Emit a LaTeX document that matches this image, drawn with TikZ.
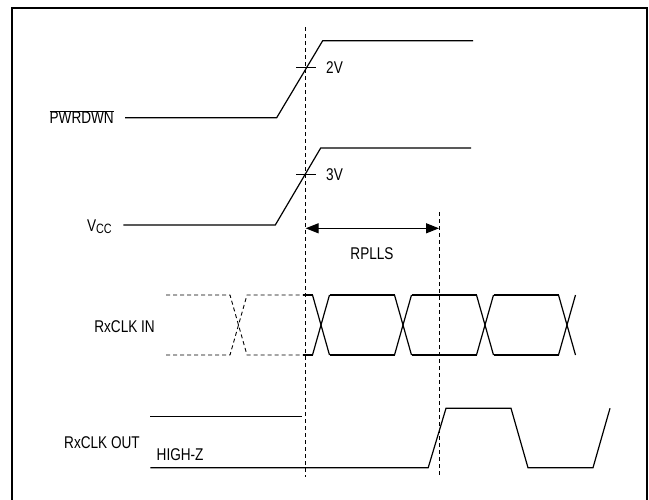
\documentclass[tikz,border=0pt]{standalone}
\usepackage{fontspec}
\setmainfont{Liberation Sans}[FakeStretch=0.8]
\usetikzlibrary{arrows.meta}
\tikzset{sig/.style = {line width = 1.2pt, line join = miter}}
\tikzset{guide/.style = {line width = 0.9pt, dash pattern = on 4pt off 3pt}}
\tikzset{lbl/.style = {inner sep = 0, font = \fontsize{17}{20}\selectfont}}

\begin{document}
\begin{tikzpicture}[x=1pt, y=-1pt]
  \useasboundingbox (0, 0) rectangle (649, 499);
  \draw [line width = 2.5pt] (12, 510) -- (12, 8) -- (647, 8) -- (647, 510);

  % guide lines
  \coordinate (g1top) at (305.6, 27);
  \coordinate (g1bot) at (305.6, 477);
  \coordinate (g2top) at (439, 212);
  \coordinate (g2bot) at (439, 477);
  \draw [guide] (g1top) -- (g1bot);
  \draw [guide] (g2top) -- (g2bot);

  % PWRDWN
  \node [lbl, anchor = east] (pwrdwn) at (114, 117) {\(\overline{\mbox{PWRDWN}}\)};
  \draw [sig] (125, 117.7) -- (276.7, 117.7) -- (322.7, 40.7) -- (473, 40.7);
  \draw [sig] (296, 67.7) -- (316, 67.7);
  \node [lbl, anchor = west] (twov) at (326, 68) {2V};

  % VCC
  \node [lbl, anchor = east] (vcc) at (112, 227) {V\raisebox{-2pt}{\fontsize{13.5}{14}\selectfont CC}};
  \draw [sig] (123.3, 225) -- (275.3, 225) -- (320.7, 148) -- (471, 148);
  \draw [sig] (296, 174.3) -- (316, 174.3);
  \node [lbl, anchor = west] (threev) at (326, 174.5) {3V};

  % RPLLS
  \coordinate (ra) at (305.6, 228.3);
  \coordinate (rb) at (439, 228.3);
  \draw [sig, {Triangle[length=13pt, width=10pt]}-{Triangle[length=13pt, width=10pt]}] (ra) -- (rb);
  \node [lbl] (rplls) at (372, 254) {RPLLS};

  % RxCLK IN
  \node [lbl, anchor = east] (rxin) at (155, 326.7) {RxCLK IN};
  \draw [guide] (166, 295) -- (230, 295) -- (247, 355) -- (166 + 137, 355);
  \draw [guide] (166, 355) -- (230, 355) -- (247, 295) -- (166 + 137, 295);
  \draw [sig] (303, 295) -- (312.5, 295);
  \draw [sig] (303, 355) -- (312.5, 355);
  \foreach \x in {312.5, 394.5, 476.5, 558.5} {
    \draw [sig] (\x, 295) -- (\x + 17, 355);
    \draw [sig] (\x, 355) -- (\x + 17, 295);
  }
  \foreach \x in {329.5, 411.5, 493.5} {
    \draw [sig] (\x, 295) -- (\x + 65, 295);
    \draw [sig] (\x, 355) -- (\x + 65, 355);
  }

  % RxCLK OUT
  \node [lbl, anchor = east] (rxout) at (140, 443) {RxCLK OUT};
  \node [lbl, anchor = west] (highz) at (156.5, 455) {HIGH-Z};
  \draw [sig] (150.4, 416.7) -- (301.5, 416.7);
  \draw [sig] (150.4, 467.7) -- (428.2, 467.7) -- (446, 408.3) -- (511, 408.3)
    -- (528, 467.7) -- (593, 467.7) -- (610, 408.3);
\end{tikzpicture}
\end{document}
